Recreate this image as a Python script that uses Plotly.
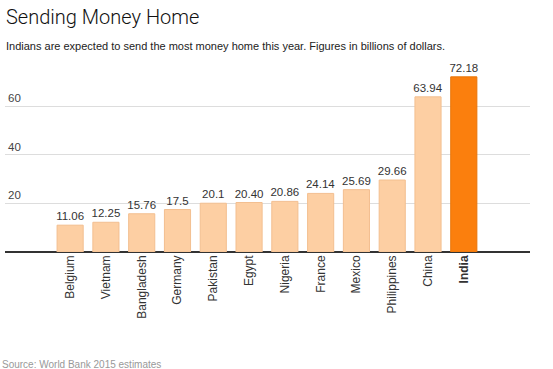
import plotly.graph_objects as go

countries = ["Belgium", "Vietnam", "Bangladesh", "Germany", "Pakistan", "Egypt",
             "Nigeria", "France", "Mexico", "Philippines", "China", "India"]
values = [11.06, 12.25, 15.76, 17.5, 20.1, 20.40, 20.86, 24.14, 25.69, 29.66, 63.94, 72.18]
value_labels = ["11.06", "12.25", "15.76", "17.5", "20.1", "20.40", "20.86", "24.14",
                "25.69", "29.66", "63.94", "72.18"]
y_ticks = [20, 40, 60]

light = "#fdcfa3"
dark = "#fb7f0d"
colors = [dark if c == "India" else light for c in countries]
line_colors = ["#e87508" if c == "India" else "#f3bf90" for c in countries]
tick_text = ["<b>India</b>" if c == "India" else c for c in countries]

FONT = "Liberation Sans, Arial, sans-serif"

fig = go.Figure(go.Bar(
    x=list(range(len(countries))), y=values,
    marker=dict(color=colors, line=dict(color=line_colors, width=1)),
    text=value_labels, textposition="outside", cliponaxis=False,
    constraintext="none",
    textfont=dict(family=FONT, size=11.5, color="#333333"),
    hoverinfo="skip",
))

fig.update_layout(
    width=553, height=369,
    margin=dict(l=5, r=23, t=70, b=117, autoexpand=False),
    paper_bgcolor="white", plot_bgcolor="white",
    bargap=0.27, showlegend=False,
    font=dict(family=FONT, color="#333333"),
    xaxis=dict(
        tickmode="array", tickvals=list(range(len(countries))), ticktext=tick_text,
        tickangle=-90, range=[-1.82, 12.85], showgrid=False, zeroline=False,
        showline=False, ticks="", automargin=False,
        tickfont=dict(family=FONT, size=12, color="#333333"),
    ),
    yaxis=dict(
        range=[0, 75], tickvals=y_ticks, ticktext=[str(t) for t in y_ticks],
        ticklabelposition="inside top", showgrid=True, gridcolor="#dddddd", gridwidth=1,
        zeroline=True, zerolinecolor="#333333", zerolinewidth=1.5,
        showline=False, ticks="", automargin=False,
        tickfont=dict(family=FONT, size=11.5, color="#444444"),
    ),
    annotations=[
        dict(text="Sending Money Home", xref="paper", yref="paper", x=0, y=1,
             xanchor="left", yanchor="top", showarrow=False,
             font=dict(family="Roboto, sans-serif", size=20, weight=300, color="#111111"),
             xshift=-1, yshift=67),
        dict(text="Indians are expected to send the most money home this year. Figures in billions of dollars.",
             xref="paper", yref="paper", x=0, y=1, xanchor="left", yanchor="top",
             showarrow=False, font=dict(family=FONT, size=11, color="#222222"),
             xshift=-1, yshift=32),
        dict(text="Source: World Bank 2015 estimates", xref="paper", yref="paper",
             x=0, y=0, xanchor="left", yanchor="top", showarrow=False,
             font=dict(family=FONT, size=10, color="#999999"), xshift=-5, yshift=-105),
    ],
)

fig.write_html("out.html", config={"displayModeBar": False},
               post_script="document.body.style.margin='0';")
